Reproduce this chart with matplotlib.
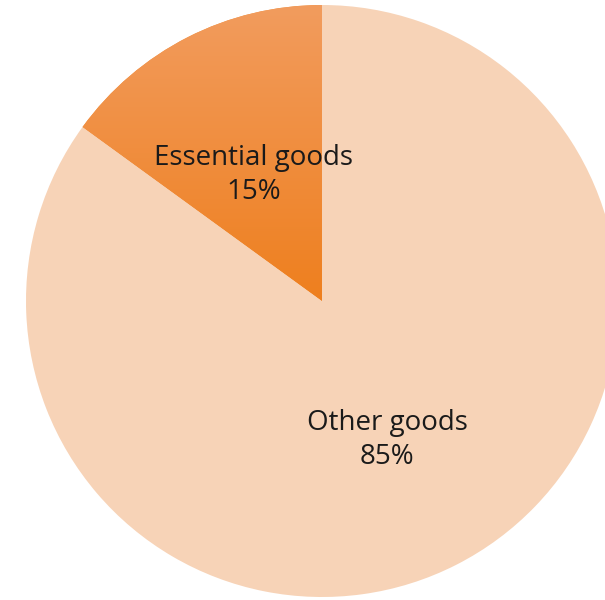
import numpy as np
import matplotlib
matplotlib.use("Agg")
import matplotlib.pyplot as plt
from matplotlib.colors import LinearSegmentedColormap

labels = ["Essential goods", "Other goods"]
shares = [15, 85]
pct_labels = ["15%", "85%"]

fig = plt.figure(figsize=(6.05, 6.0), dpi=100)
ax = fig.add_axes([0, 0, 1, 1])

cx, cy, r = 322, 299, 296
wedges, _ = ax.pie(shares, startangle=90, counterclock=True,
                   colors=["#F0913F", "#F7D3B7"], radius=r, center=(cx, cy),
                   wedgeprops=dict(linewidth=0), frame=True)
ax.set_xlim(0, 605)
ax.set_ylim(0, 600)
ax.set_aspect('equal')
ax.axis('off')

# gradient on essential wedge
cmap = LinearSegmentedColormap.from_list("g", ["#EE7F1E", "#F29C5E"])
grad = np.linspace(0, 1, 256).reshape(-1, 1)
im = ax.imshow(grad, cmap=cmap, origin='lower', aspect='auto',
               extent=(cx - r, cx, cy, cy + r), zorder=wedges[0].get_zorder() + 0.1)
im.set_clip_path(wedges[0])

font = "Open Sans"
ax.text(254, 600 - 175, labels[0] + "\n" + pct_labels[0], ha='center', va='center',
        fontsize=20, family=font, color="#1a1a1a", linespacing=1.3, zorder=5)
ax.text(387, 600 - 440, labels[1] + "\n" + pct_labels[1], ha='center', va='center',
        fontsize=20, family=font, color="#1a1a1a", linespacing=1.3, zorder=5)

fig.savefig("out.png", dpi=100)
